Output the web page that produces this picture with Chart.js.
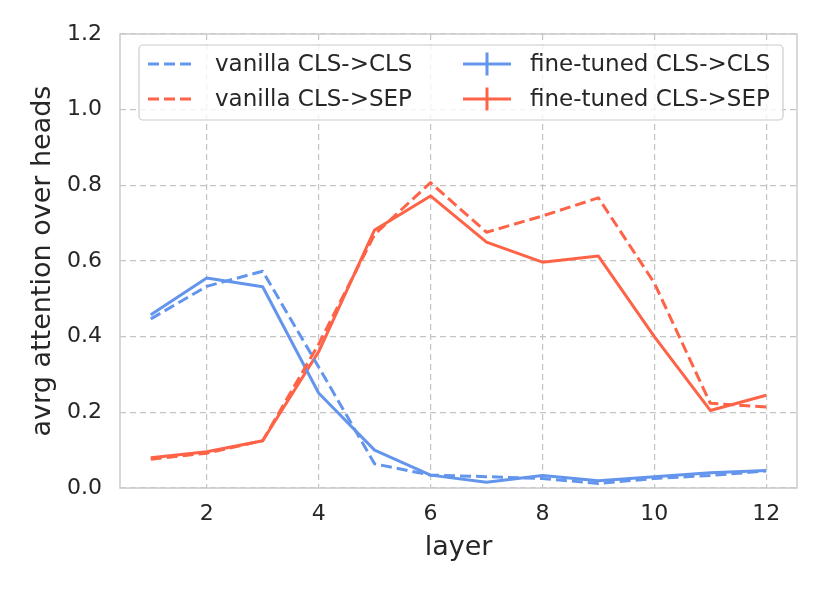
<!DOCTYPE html>
<html>
<head>
<meta charset="utf-8">
<script src="https://cdn.jsdelivr.net/npm/chart.js@4/dist/chart.umd.min.js"></script>
<style>
  html, body { margin: 0; padding: 0; background: #ffffff; }
  #wrap { width: 830px; height: 593px; }
</style>
</head>
<body>
<div id="wrap"><canvas id="chart" width="830" height="593"></canvas></div>
<script>
// 各レイヤーの平均アテンション
const layers = [1, 2, 3, 4, 5, 6, 7, 8, 9, 10, 11, 12];
const vanillaClsCls = [0.447, 0.533, 0.573, 0.320, 0.064, 0.034, 0.030, 0.025, 0.012, 0.025, 0.033, 0.045];
const vanillaClsSep = [0.076, 0.092, 0.125, 0.380, 0.670, 0.807, 0.676, 0.719, 0.767, 0.542, 0.224, 0.214];
const tunedClsCls = [0.458, 0.555, 0.532, 0.251, 0.100, 0.034, 0.015, 0.033, 0.019, 0.030, 0.040, 0.046];
const tunedClsSep = [0.080, 0.096, 0.125, 0.360, 0.682, 0.772, 0.650, 0.597, 0.613, 0.400, 0.205, 0.245];

const xTicks = [2, 4, 6, 8, 10, 12];
const yTicks = [0.0, 0.2, 0.4, 0.6, 0.8, 1.0, 1.2];

const BLUE = '#6495ED';
const RED = '#FF6347';
const TEXT = '#262626';
const FONT = "'DejaVu Sans', sans-serif";

const toPoints = (vals) => vals.map((v, i) => ({ x: layers[i], y: v }));

// プロット枠（四辺とも薄いグレー）
const frame = {
    id: 'frame',
    afterDatasetsDraw: (chart) => {
        const { ctx, chartArea: a } = chart;
        ctx.save();
        ctx.strokeStyle = '#cccccc';
        ctx.lineWidth = 1.5;
        ctx.setLineDash([]);
        ctx.strokeRect(a.left, a.top, a.right - a.left, a.bottom - a.top);
        ctx.restore();
    },
};

// matplotlib 風の2列凡例をプロット内に描く
const legendBox = {
    id: 'legendBox',
    afterDraw: (chart) => {
        const { ctx, chartArea: a } = chart;
        const x0 = a.left + 19, y0 = a.top + 11, w = 644, h = 75;
        ctx.save();
        ctx.beginPath();
        ctx.roundRect(x0, y0, w, h, 4);
        ctx.fillStyle = 'rgba(255,255,255,0.8)';
        ctx.fill();
        ctx.strokeStyle = '#cccccc';
        ctx.lineWidth = 1.2;
        ctx.stroke();

        const cols = [x0 + 9, x0 + 324];
        const rows = [y0 + 19, y0 + 54];
        ctx.font = `23px ${FONT}`;
        ctx.textBaseline = 'middle';
        chart.data.datasets.forEach((ds, di) => {
            const cx = cols[Math.floor(di / 2)];
            const cy = rows[di % 2];
            ctx.strokeStyle = ds.borderColor;
            ctx.lineWidth = 3;
            ctx.setLineDash(ds.borderDash || []);
            ctx.beginPath();
            ctx.moveTo(cx, cy);
            ctx.lineTo(cx + 48, cy);
            ctx.stroke();
            if (!ds.borderDash) {
                ctx.beginPath();
                ctx.moveTo(cx + 24, cy - 11.5);
                ctx.lineTo(cx + 24, cy + 11.5);
                ctx.stroke();
            }
            ctx.setLineDash([]);
            ctx.fillStyle = TEXT;
            ctx.fillText(ds.label, cx + 67, cy + 1);
        });
        ctx.restore();
    },
};

new Chart(document.getElementById('chart').getContext('2d'), {
    type: 'line',
    data: {
        datasets: [
            { label: 'vanilla CLS->CLS', data: toPoints(vanillaClsCls), borderColor: BLUE, borderDash: [11, 5] },
            { label: 'vanilla CLS->SEP', data: toPoints(vanillaClsSep), borderColor: RED, borderDash: [11, 5] },
            { label: 'fine-tuned CLS->CLS', data: toPoints(tunedClsCls), borderColor: BLUE },
            { label: 'fine-tuned CLS->SEP', data: toPoints(tunedClsSep), borderColor: RED },
        ],
    },
    options: {
        responsive: false,
        animation: false,
        devicePixelRatio: 1,
        layout: { padding: { top: 34, right: 33, left: 0, bottom: 0 } },
        elements: {
            line: { borderWidth: 3, tension: 0, fill: false, borderCapStyle: 'butt', borderJoinStyle: 'round' },
            point: { radius: 0, hoverRadius: 0 },
        },
        plugins: {
            legend: { display: false },
            tooltip: { enabled: false },
        },
        scales: {
            x: {
                type: 'linear',
                min: 0.45,
                max: 12.55,
                afterBuildTicks: (s) => { s.ticks = xTicks.map((v) => ({ value: v })); },
                afterFit: (s) => { s.height = 105; },
                ticks: { color: TEXT, font: { family: FONT, size: 22 }, padding: 13, callback: (v) => String(v) },
                grid: { color: '#c4c4c4', lineWidth: 1.2, drawTicks: false },
                border: { display: false, dash: [6, 4] },
                title: { display: true, text: 'layer', color: TEXT, font: { family: FONT, size: 27 }, padding: { top: 0, bottom: 29 } },
            },
            y: {
                type: 'linear',
                min: 0,
                max: 1.2,
                afterBuildTicks: (s) => { s.ticks = yTicks.map((v) => ({ value: v })); },
                afterFit: (s) => { s.width = 120; },
                ticks: { color: TEXT, font: { family: FONT, size: 22 }, padding: 18, callback: (v) => v.toFixed(1) },
                grid: { color: '#c4c4c4', lineWidth: 1.2, drawTicks: false },
                border: { display: false, dash: [6, 4] },
                title: { display: true, text: 'avrg attention over heads', color: TEXT, font: { family: FONT, size: 27 }, padding: { top: 27, bottom: 0 } },
            },
        },
    },
    plugins: [frame, legendBox],
});
</script>
</body>
</html>
